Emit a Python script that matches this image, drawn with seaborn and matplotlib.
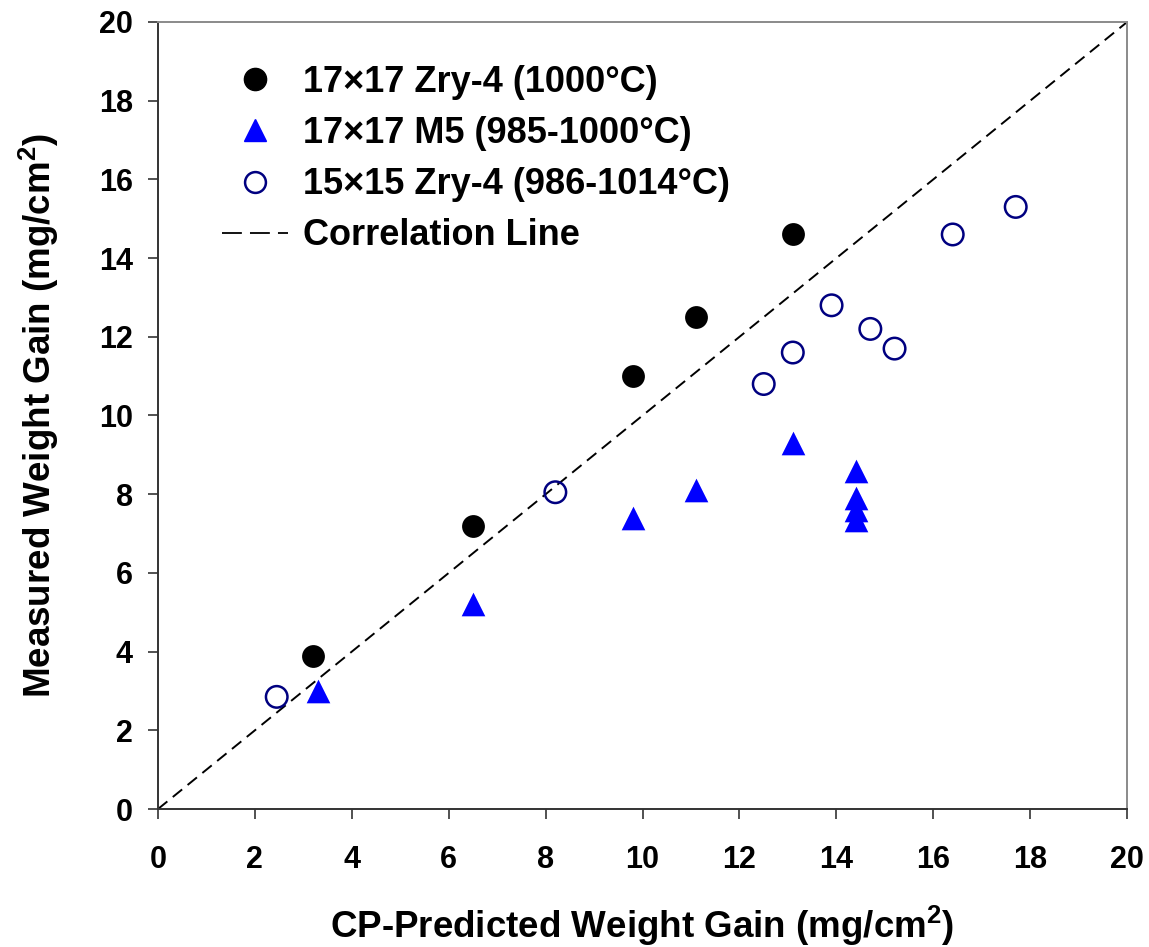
import numpy as np
import pandas as pd
import matplotlib
matplotlib.use("Agg")
import matplotlib.pyplot as plt
import seaborn as sns
from matplotlib.lines import Line2D

# data
zry17_x = [3.2, 6.5, 9.8, 11.1, 13.1]
zry17_y = [3.9, 7.2, 11.0, 12.5, 14.6]

m5_x = [3.3, 6.5, 9.8, 11.1, 13.1, 14.4, 14.4, 14.4, 14.4]
m5_y = [3.0, 5.2, 7.4, 8.1, 9.3, 8.6, 7.9, 7.6, 7.35]

zry15_x = [2.45, 8.2, 12.5, 13.1, 13.9, 14.7, 15.2, 16.4, 17.7]
zry15_y = [2.85, 8.05, 10.8, 11.6, 12.8, 12.2, 11.7, 14.6, 15.3]

corr_x = [0, 20]
corr_y = [0, 20]

labels = ["17\u00d717 Zry-4 (1000\u00b0C)", "17\u00d717 M5 (985-1000\u00b0C)",
          "15\u00d715 Zry-4 (986-1014\u00b0C)", "Correlation Line"]


def set_style():
    sns.set_style("white")
    plt.rcParams['font.family'] = ['Liberation Sans', 'DejaVu Sans']
    plt.rcParams['font.weight'] = 'bold'
    plt.rcParams['mathtext.fontset'] = 'custom'
    plt.rcParams['mathtext.rm'] = 'Liberation Sans:bold'
    plt.rcParams['mathtext.bf'] = 'Liberation Sans:bold'
    for k in ['text.color', 'axes.labelcolor', 'xtick.color', 'ytick.color']:
        plt.rcParams[k] = 'black'


set_style()
fig = plt.figure(figsize=(11.49, 9.47), dpi=100)
ax = fig.add_axes([0.1375, 0.1457, 0.8435, 0.8311])

sns.lineplot(x=corr_x, y=corr_y, ax=ax, color='black', lw=1.4, legend=False)
ax.lines[-1].set_dashes((6.2, 3.6))
sns.scatterplot(x=zry17_x, y=zry17_y, ax=ax, marker='o', s=270,
                color='black', edgecolor='black', linewidth=0, zorder=3)
sns.scatterplot(x=m5_x, y=m5_y, ax=ax, marker='^', s=290,
                color='#0000ff', edgecolor='#0000ff', linewidth=0, zorder=3)
sns.scatterplot(x=zry15_x, y=zry15_y, ax=ax, marker='o', s=240,
                facecolor='none', edgecolor='#000080', linewidth=1.8, zorder=3)

ax.set_xlim(0, 20)
ax.set_ylim(0, 20)
ax.set_xticks(np.arange(0, 21, 2))
ax.set_yticks(np.arange(0, 21, 2))
ax.tick_params(axis='both', direction='out', length=7, width=1.2,
               labelsize=22, bottom=True, left=True, color='#333333')
ax.tick_params(axis='x', pad=19)
ax.tick_params(axis='y', pad=11)
for t in ax.get_xticklabels() + ax.get_yticklabels():
    t.set_fontweight('bold')

for side in ['left', 'bottom']:
    ax.spines[side].set_color('#333333')
    ax.spines[side].set_linewidth(1.4)
for side in ['top', 'right']:
    ax.spines[side].set_color('#8a8a8a')
    ax.spines[side].set_linewidth(1.4)

ax.set_xlabel('CP-Predicted Weight Gain (mg/cm$\\mathbf{^2}$)', fontsize=26.5,
              fontweight='bold')
ax.set_ylabel('Measured Weight Gain (mg/cm$\\mathbf{^2}$)', fontsize=26.5,
              fontweight='bold')
ax.xaxis.set_label_coords(0.5, -0.121)
ax.yaxis.set_label_coords(-0.100, 0.5)

handles = [
    Line2D([], [], marker='o', ls='none', color='black', markersize=16),
    Line2D([], [], marker='^', ls='none', color='#0000ff', markersize=16.5),
    Line2D([], [], marker='o', ls='none', markerfacecolor='none',
           markeredgecolor='#000080', markeredgewidth=1.8, markersize=15),
    Line2D([], [], color='black', lw=1.3, dashes=(11, 4.5)),
]
ax.legend(handles, labels, loc='upper left', bbox_to_anchor=(0.051, 0.964),
          borderaxespad=0, frameon=False,
          prop={'weight': 'bold', 'size': 26},
          handlelength=1.83, handletextpad=0.42, labelspacing=0.45)

fig.savefig('out.png', dpi=100)
